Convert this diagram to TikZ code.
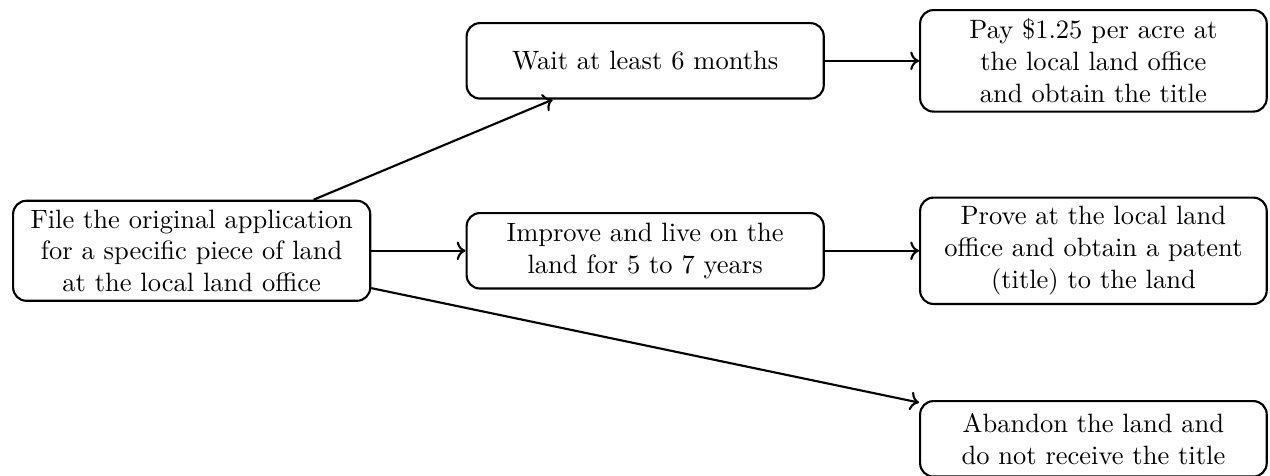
\documentclass[tikz,border=0pt]{standalone}
\usepackage{tikz}
\usetikzlibrary{arrows.meta, positioning}

\tikzset{
    stepbox/.style={draw, rounded corners=5pt, thick, align=center,
                    text width=4.5cm, minimum height=1cm},
    endbox/.style={stepbox, text width=4.36cm},
    flow/.style={->, thick}
}

\begin{document}
\begin{tikzpicture}[node distance=1.25cm]
    \node[stepbox] (file) {File the original application\\for a specific piece of land\\at the local land office};
    \node[stepbox, right=of file] (improve) {Improve and live on the\\land for 5 to 7 years};
    \node[stepbox, above=1.49cm of improve] (wait) {Wait at least 6 months};
    \node[endbox, right=of improve] (prove) {Prove at the local land\\office and obtain a patent\\(title) to the land};
    \node[endbox, right=of wait] (pay) {Pay \$1.25 per acre at\\the local land office\\and obtain the title};
    \node[endbox, below=1.26cm of prove] (abandon) {Abandon the land and\\do not receive the title};

    \draw[flow] (file) -- (wait);
    \draw[flow] (file) -- (improve);
    \draw[flow] (file) -- (abandon);
    \draw[flow] (wait) -- (pay);
    \draw[flow] (improve) -- (prove);

    % margins as in the original (bottom edge is cut off there)
    \coordinate (c1) at (file.west |- pay.north);
    \coordinate (c2) at (abandon.south east);
    \pgfresetboundingbox
    \path[use as bounding box] ([shift={(-0.16,0.12)}]c1) rectangle ([shift={(0.03,0.03)}]c2);
\end{tikzpicture}
\end{document}
